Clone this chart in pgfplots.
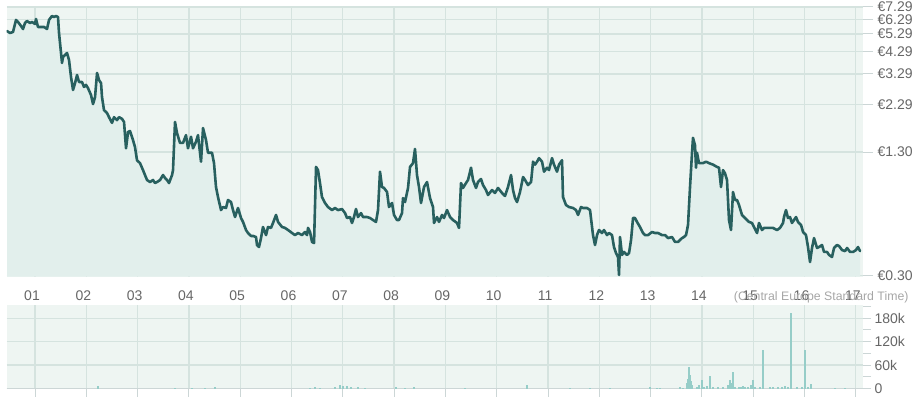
\documentclass[border=0pt]{standalone}
\usepackage{fontspec}
\setmainfont{Liberation Sans}
\usepackage{pgfplots}
\usepackage{pgfplotstable}
\pgfplotsset{compat=1.18}
\definecolor{bgc}{HTML}{EEF5F2}
\definecolor{areac}{HTML}{E2EFEC}
\definecolor{linec}{HTML}{28605F}
\definecolor{gridc}{HTML}{D5E3DF}
\definecolor{tickc}{HTML}{CCD6D6}
\definecolor{volc}{HTML}{96CDC8}
\definecolor{labelc}{HTML}{666666}
\definecolor{tzc}{HTML}{A6A6A6}

\pgfplotstableread{
x p
0.454 5.48
0.513 5.35
0.571 5.42
0.630 6.25
0.669 6.10
0.727 5.82
0.766 5.61
0.805 6.03
0.844 6.17
0.903 6.03
0.941 6.10
1.000 5.96
1.019 6.32
1.058 5.75
1.136 5.75
1.175 5.75
1.234 5.61
1.273 6.25
1.331 6.55
1.370 6.47
1.409 6.55
1.448 6.47
1.468 5.35
1.507 4.22
1.526 3.75
1.546 4.02
1.585 4.12
1.624 4.22
1.663 3.88
1.702 3.17
1.741 2.72
1.780 2.95
1.819 3.25
1.858 2.99
1.916 2.99
1.955 2.82
1.994 2.89
2.033 2.78
2.092 2.56
2.131 2.30
2.170 2.50
2.209 3.33
2.248 3.06
2.287 2.95
2.306 2.50
2.345 2.14
2.403 2.07
2.442 1.97
2.501 1.84
2.540 1.97
2.598 1.90
2.637 1.97
2.696 1.93
2.735 1.86
2.774 1.36
2.813 1.65
2.852 1.67
2.910 1.50
2.949 1.38
2.988 1.18
3.047 1.14
3.105 1.05
3.144 0.990
3.183 0.933
3.242 0.911
3.300 0.933
3.339 0.900
3.378 0.911
3.437 0.933
3.495 0.990
3.534 0.956
3.573 0.933
3.612 0.900
3.671 0.990
3.690 1.05
3.729 1.86
3.768 1.63
3.826 1.45
3.885 1.45
3.943 1.59
3.982 1.36
4.041 1.56
4.080 1.36
4.138 1.47
4.177 1.59
4.236 1.16
4.275 1.73
4.333 1.50
4.372 1.29
4.450 1.29
4.489 1.14
4.528 0.859
4.567 0.762
4.626 0.653
4.665 0.677
4.723 0.669
4.762 0.736
4.821 0.718
4.860 0.653
4.899 0.601
4.957 0.669
5.016 0.594
5.055 0.567
5.113 0.515
5.152 0.497
5.211 0.480
5.250 0.480
5.308 0.474
5.327 0.431
5.366 0.421
5.405 0.468
5.444 0.534
5.503 0.485
5.542 0.534
5.600 0.528
5.639 0.560
5.698 0.616
5.737 0.567
5.815 0.534
5.873 0.528
5.932 0.515
6.010 0.497
6.068 0.485
6.127 0.497
6.205 0.485
6.263 0.503
6.302 0.485
6.322 0.528
6.361 0.503
6.400 0.447
6.439 0.441
6.478 1.09
6.516 1.05
6.555 0.900
6.594 0.762
6.653 0.710
6.711 0.677
6.789 0.653
6.848 0.669
6.906 0.653
6.984 0.661
7.043 0.630
7.082 0.594
7.140 0.601
7.179 0.560
7.218 0.601
7.257 0.661
7.296 0.601
7.355 0.630
7.394 0.601
7.472 0.601
7.530 0.594
7.589 0.580
7.647 0.567
7.686 0.653
7.725 1.03
7.764 0.859
7.803 0.849
7.862 0.809
7.900 0.677
7.959 0.710
7.998 0.616
8.056 0.580
8.095 0.580
8.154 0.630
8.173 0.753
8.212 0.718
8.271 0.849
8.310 1.09
8.368 1.14
8.407 1.35
8.446 0.990
8.485 0.859
8.524 0.710
8.583 0.859
8.641 0.911
8.700 0.753
8.758 0.677
8.778 0.560
8.836 0.601
8.875 0.567
8.934 0.616
8.973 0.594
9.031 0.653
9.090 0.601
9.148 0.580
9.226 0.560
9.265 0.528
9.304 0.900
9.343 0.849
9.401 0.900
9.440 0.933
9.499 1.08
9.538 0.933
9.596 0.849
9.635 0.911
9.694 0.944
9.733 0.879
9.791 0.828
9.830 0.781
9.908 0.828
9.967 0.800
10.025 0.849
10.103 0.800
10.162 0.772
10.220 0.859
10.279 0.990
10.318 0.828
10.357 0.753
10.396 0.718
10.454 0.809
10.513 0.967
10.552 0.933
10.610 0.879
10.669 0.911
10.708 1.16
10.747 1.12
10.786 1.16
10.825 1.21
10.883 1.16
10.922 1.03
10.980 1.08
11.019 1.05
11.078 1.21
11.117 1.12
11.175 1.03
11.214 1.12
11.273 1.18
11.292 0.762
11.351 0.693
11.409 0.677
11.487 0.669
11.546 0.653
11.585 0.616
11.643 0.677
11.682 0.669
11.760 0.669
11.819 0.653
11.858 0.534
11.877 0.485
11.916 0.431
11.955 0.485
11.994 0.515
12.052 0.497
12.091 0.515
12.150 0.485
12.189 0.497
12.247 0.485
12.286 0.421
12.325 0.392
12.364 0.374
12.384 0.302
12.403 0.474
12.442 0.383
12.481 0.397
12.540 0.383
12.579 0.392
12.618 0.457
12.657 0.594
12.696 0.594
12.735 0.567
12.793 0.534
12.852 0.497
12.891 0.485
12.949 0.485
13.027 0.503
13.086 0.497
13.144 0.497
13.222 0.485
13.281 0.485
13.339 0.468
13.417 0.474
13.476 0.447
13.534 0.447
13.612 0.468
13.651 0.474
13.690 0.485
13.729 0.547
13.768 0.859
13.807 1.29
13.826 1.54
13.865 1.41
13.885 1.08
13.904 1.29
13.943 1.14
14.021 1.14
14.080 1.16
14.138 1.14
14.216 1.12
14.294 1.09
14.333 1.08
14.372 0.859
14.411 1.05
14.450 1.01
14.489 0.933
14.528 0.580
14.567 0.515
14.606 0.809
14.645 0.736
14.684 0.736
14.723 0.693
14.781 0.616
14.820 0.601
14.879 0.580
14.918 0.567
14.976 0.560
15.015 0.534
15.074 0.497
15.113 0.560
15.171 0.515
15.210 0.528
15.269 0.528
15.327 0.528
15.386 0.528
15.464 0.515
15.522 0.528
15.581 0.560
15.600 0.601
15.639 0.653
15.678 0.594
15.717 0.601
15.756 0.560
15.795 0.580
15.834 0.601
15.873 0.567
15.932 0.547
15.971 0.503
16.029 0.485
16.068 0.421
16.107 0.352
16.146 0.416
16.185 0.468
16.244 0.416
16.283 0.421
16.341 0.431
16.380 0.397
16.439 0.397
16.478 0.383
16.536 0.374
16.575 0.416
16.634 0.431
16.673 0.426
16.731 0.406
16.790 0.401
16.829 0.416
16.887 0.397
16.946 0.397
17.004 0.406
17.043 0.421
17.082 0.401
}\pricedata

\pgfplotstableread{
x v
2.228 6000
3.729 2000
4.060 2000
4.314 2000
4.509 3000
6.361 2000
6.458 3000
6.555 2000
6.848 5000
6.945 10000
7.004 6000
7.082 7000
7.160 4000
7.296 3000
7.433 2000
8.037 3000
8.212 2000
8.388 4000
9.382 2000
10.590 10000
11.429 2000
11.819 2000
12.208 2000
12.988 4000
13.124 2000
13.183 2000
13.573 3000
13.631 2000
13.709 15000
13.729 25000
13.748 56000
13.768 35000
13.787 20000
13.807 10000
13.904 5000
13.943 8000
14.002 21000
14.041 5000
14.099 6000
14.158 32000
14.216 3000
14.314 5000
14.411 3000
14.508 8000
14.547 23000
14.567 15000
14.606 43000
14.645 4000
14.723 5000
14.762 4000
14.801 6000
14.840 5000
14.898 4000
14.957 10000
14.996 23000
15.035 3000
15.132 4000
15.191 99000
15.327 3000
15.386 3000
15.483 4000
15.561 5000
15.620 7000
15.678 5000
15.737 193000
15.854 5000
15.951 3000
16.010 99000
16.068 5000
16.127 11000
16.595 1000
16.790 1000
}\voldata

\begin{document}
\begin{tikzpicture}[x=1pt,y=1pt]
\useasboundingbox (0,0) rectangle (920,396);
\pgfplotsset{
  every tick label/.append style={font=\fontsize{14}{16}\selectfont, text=labelc},
}
% volume panel (drawn first so the date labels of the price panel lie on top)
\begin{axis}[
  at={(6.7pt,7.5pt)}, anchor=south west,
  scale only axis, width=856.3pt, height=83.5pt,
  xmin=0.448, xmax=17.14,
  ymin=0, ymax=214000,
  axis background/.style={fill=bgc},
  axis x line*=bottom, axis y line*=right,
  x axis line style={draw=tickc, line width=1pt},
  y axis line style={draw=none},
  xtick={1,...,17}, xticklabels={},
  xtick style={draw=tickc, line width=1pt},
  ytick={0,60000,120000,180000},
  yticklabels={0,60k,120k,180k},
  minor ytick={30000,90000,150000,210000},
  ytick style={draw=tickc, line width=1pt},
  minor tick style={draw=tickc, line width=1pt},
  tick align=outside, major tick length=8pt, minor tick length=8pt,
  yticklabel style={anchor=west, xshift=0pt},
  grid=major, grid style={draw=gridc, line width=1.3pt},
  scaled y ticks=false,
]
\addplot[ycomb, draw=volc, line width=1.3pt] table[x=x,y=v] {\voldata};
\end{axis}
% main price panel
\begin{axis}[
  at={(6.7pt,119.5pt)}, anchor=south west,
  scale only axis, width=856.3pt, height=269.5pt,
  xmin=0.448, xmax=17.14,
  ymode=log, ymin=0.2965, ymax=7.29,
  log origin y=infty,
  axis background/.style={fill=bgc},
  axis line style={draw=none},
  xtick={1,...,17},
  xticklabels={01,02,03,04,05,06,07,08,09,10,11,12,13,14,15,16,17},
  xticklabel style={anchor=base, yshift=-14.5pt, xshift=-3pt},
  xtick style={draw=none},
  ytick={0.3,1.3,2.29,3.29,4.29,5.29,6.29,7.29},
  yticklabels={€0.30,€1.30,€2.29,€3.29,€4.29,€5.29,€6.29,€7.29},
  minor ytick={},
  ytick pos=right, yticklabel pos=right,
  ytick style={draw=tickc, line width=1pt},
  tick align=outside, major tick length=10pt,
  yticklabel style={anchor=west, xshift=1pt},
  grid=major, grid style={draw=gridc, line width=1.3pt},
]
\addplot[draw=none, fill=areac] table[x=x,y=p] {\pricedata} \closedcycle;
\addplot[draw=linec, line width=2.6pt, line join=round, line cap=round] table[x=x,y=p] {\pricedata};
\end{axis}
\node[anchor=base east, font=\fontsize{12.3}{14}\selectfont, text=tzc] at (912,95) {(Central Europe Standard Time)};
\end{tikzpicture}
\end{document}
